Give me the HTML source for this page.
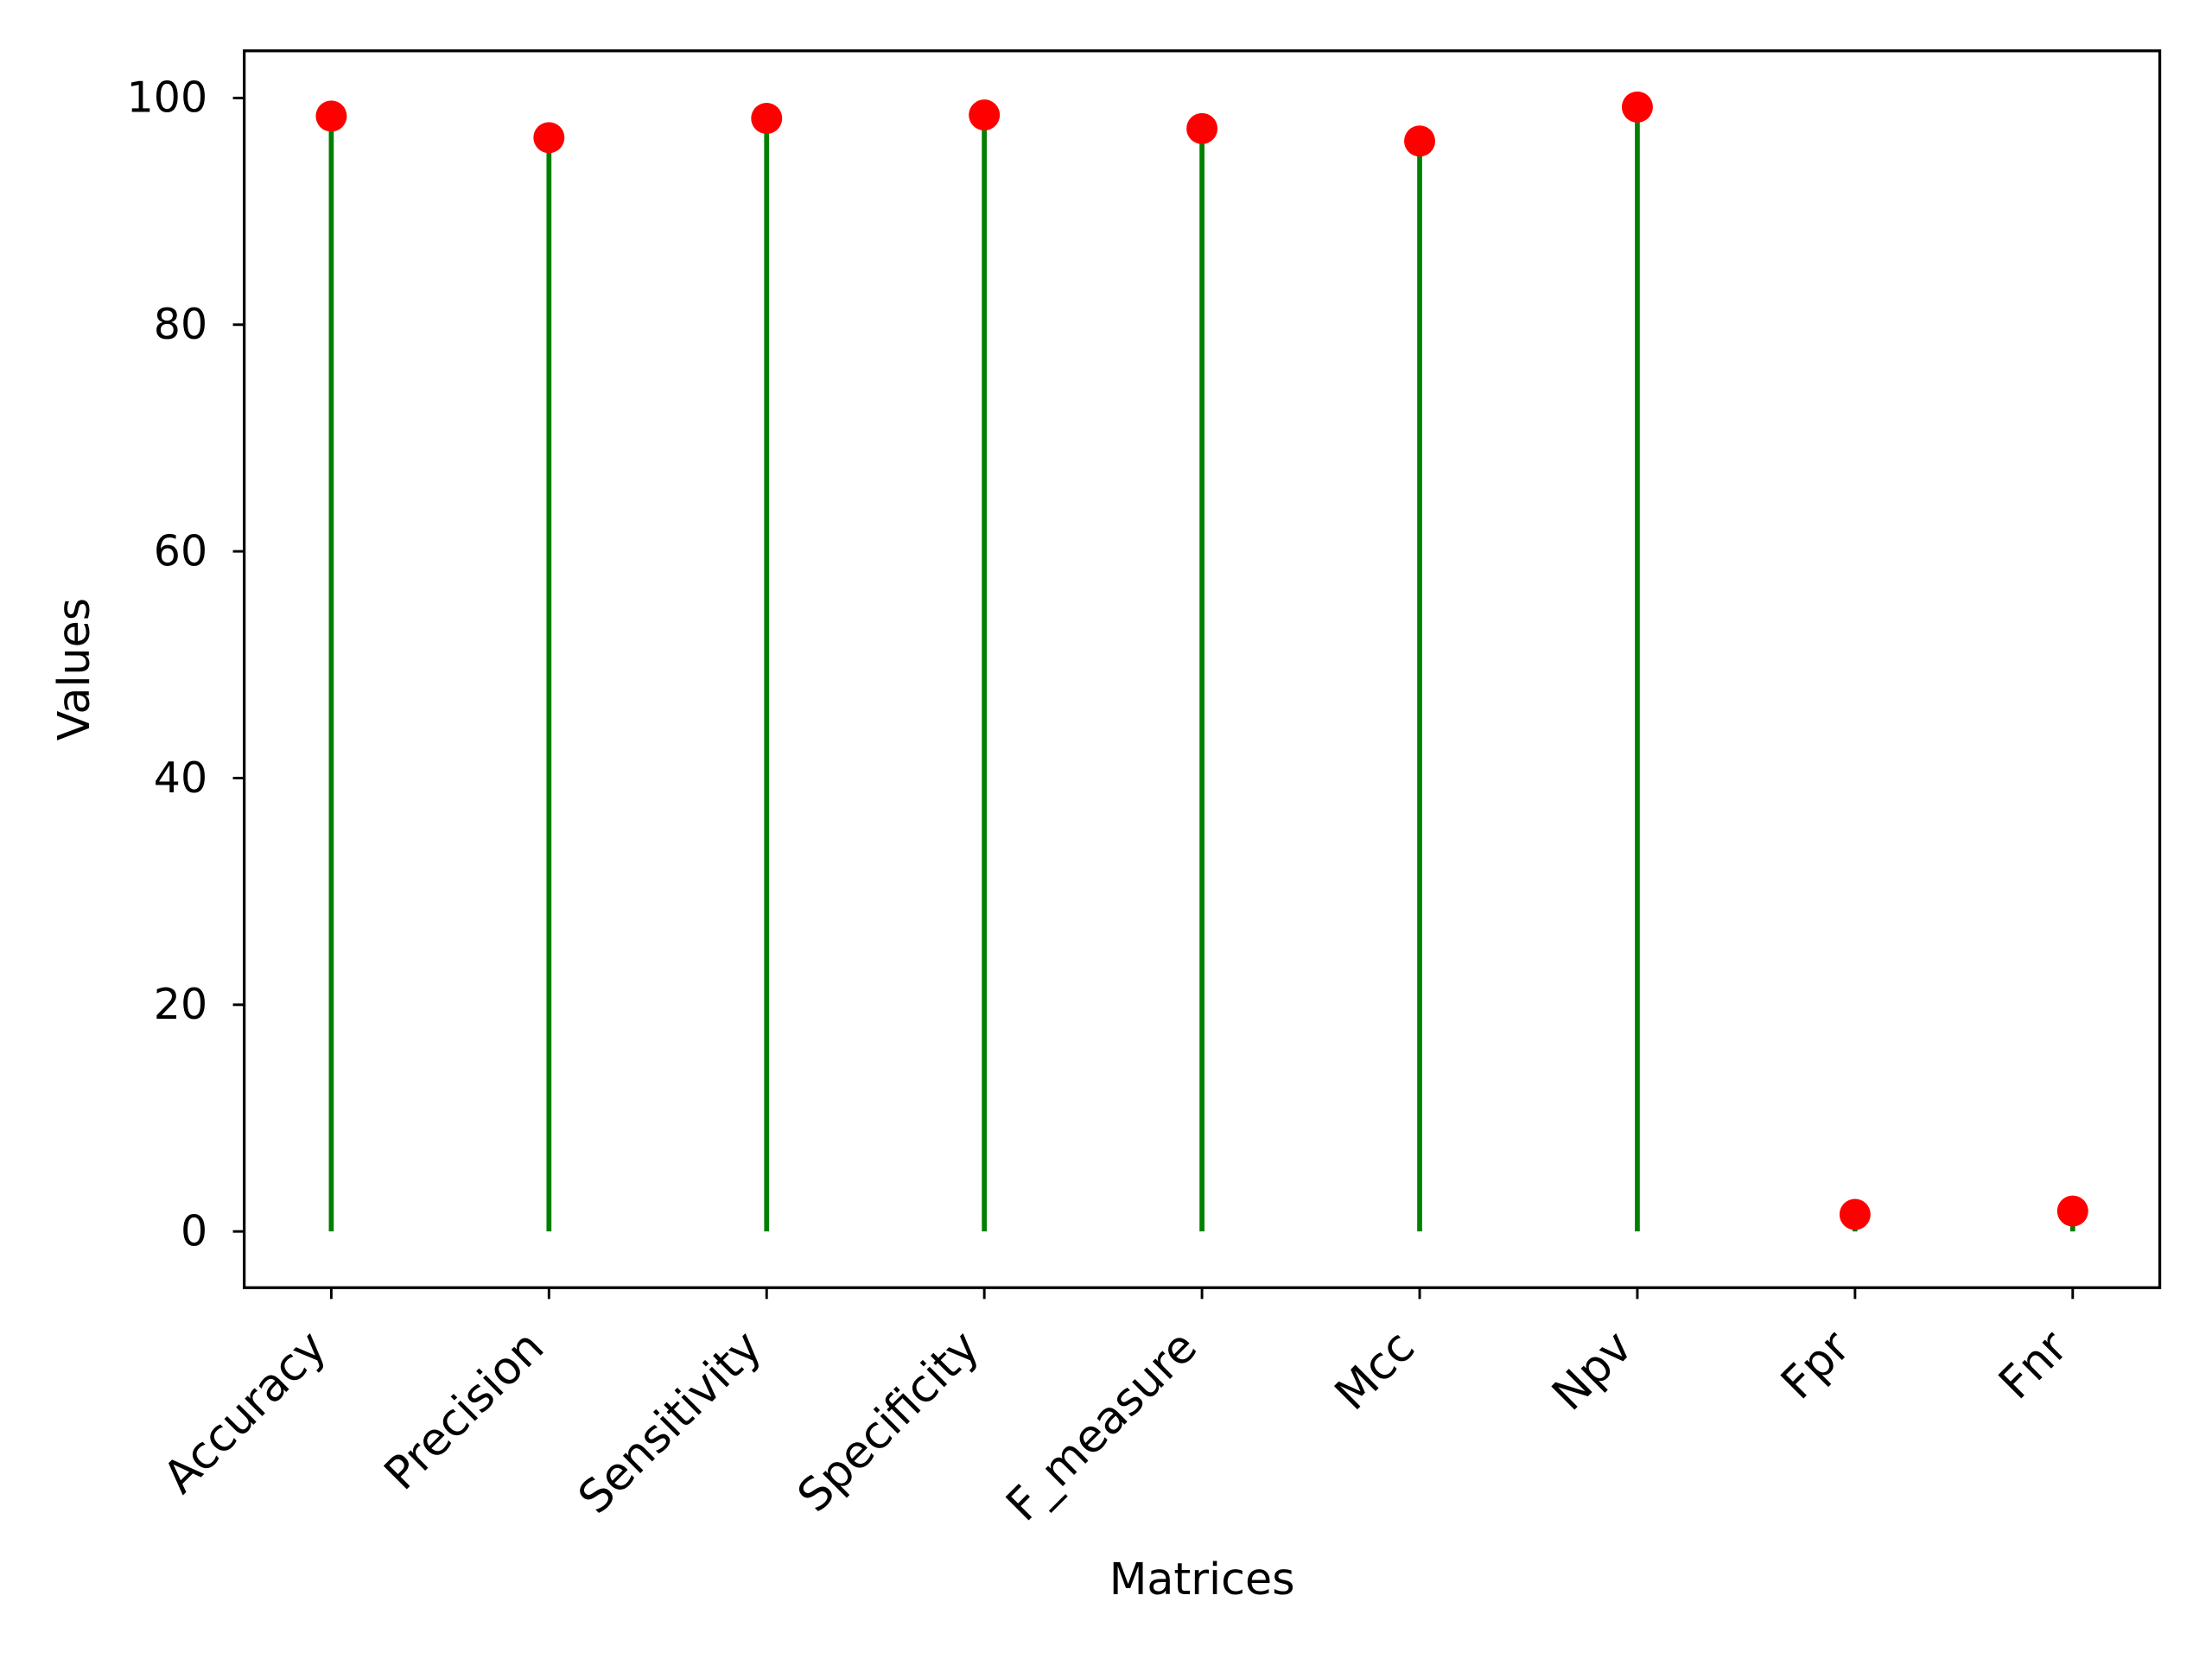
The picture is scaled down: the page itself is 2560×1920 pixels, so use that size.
<!DOCTYPE html>
<html><head><meta charset="utf-8"><style>
html,body{margin:0;padding:0;background:#fff;}
svg{display:block;}
text{font-family:"DejaVu Sans","Liberation Sans",sans-serif;fill:#000;}
</style></head><body>
<svg id="chart" width="2560" height="1920" viewBox="0 0 1567 1175" preserveAspectRatio="none" xmlns="http://www.w3.org/2000/svg">
<rect x="0" y="0" width="1567" height="1175" fill="#fff"/>
<g id="plot"></g>
</svg>
<script>
const categories = ["Accuracy","Precision","Sensitivity","Specificity","F_measure","Mcc","Npv","Fpr","Fnr"];
const values = [98.4, 96.5, 98.2, 98.5, 97.3, 96.2, 99.2, 1.5, 1.8];
const yTicks = [0, 20, 40, 60, 80, 100];

const L = 173, R = 1530, T = 36, B = 912;
const yMin = -4.96, yMax = 104.16;
function yScale(v){ return B - (v - yMin) / (yMax - yMin) * (B - T); }
const xMin = -0.4, xMax = categories.length - 1 + 0.4;
function xScale(i){ return L + (i - xMin) / (xMax - xMin) * (R - L); }

const NS = "http://www.w3.org/2000/svg";
const g = document.getElementById("plot");
function mk(tag, attrs){ const e = document.createElementNS(NS, tag); for (const k in attrs) e.setAttribute(k, attrs[k]); g.appendChild(e); return e; }

values.forEach((v, i) => {
  const x = xScale(i);
  const s = mk("line", {x1:x, x2:x, y1:yScale(0), y2:yScale(v), stroke:"#008000", "stroke-width":3.5});
  
  
});
values.forEach((v, i) => {
  const c = mk("circle", {cx:xScale(i), cy:yScale(v), r:11, fill:"#ff0000"});
  
  
});

const fr = mk("rect", {x:L, y:T, width:R-L, height:B-T, fill:"none", stroke:"#000", "stroke-width":2});



yTicks.forEach(t => {
  const y = yScale(t);
  const tl = mk("line", {x1:L-8, x2:L, y1:y, y2:y, stroke:"#000", "stroke-width":1.8});
  
  
  const tx = mk("text", {x:L-26, y:y+10, "text-anchor":"end", "font-size":30});
  tx.textContent = t;
  
  
});

categories.forEach((c, i) => {
  const x = xScale(i);
  const tl = mk("line", {x1:x, x2:x, y1:B, y2:B+8, stroke:"#000", "stroke-width":1.8});
  
  
  const ax = x - 2, ay = B + 44;
  const tx = mk("text", {x:ax, y:ay, "text-anchor":"end", "font-size":32, transform:"rotate(-45 " + ax + " " + ay + ")"});
  tx.textContent = c;
  
  
});

const xt = mk("text", {x:(L+R)/2, y:1129, "text-anchor":"middle", "font-size":31});
xt.textContent = "Matrices";


const yt = mk("text", {x:63, y:(T+B)/2, "text-anchor":"middle", "font-size":31, transform:"rotate(-90 63 " + ((T+B)/2) + ")"});
yt.textContent = "Values";


</script>
</body></html>
